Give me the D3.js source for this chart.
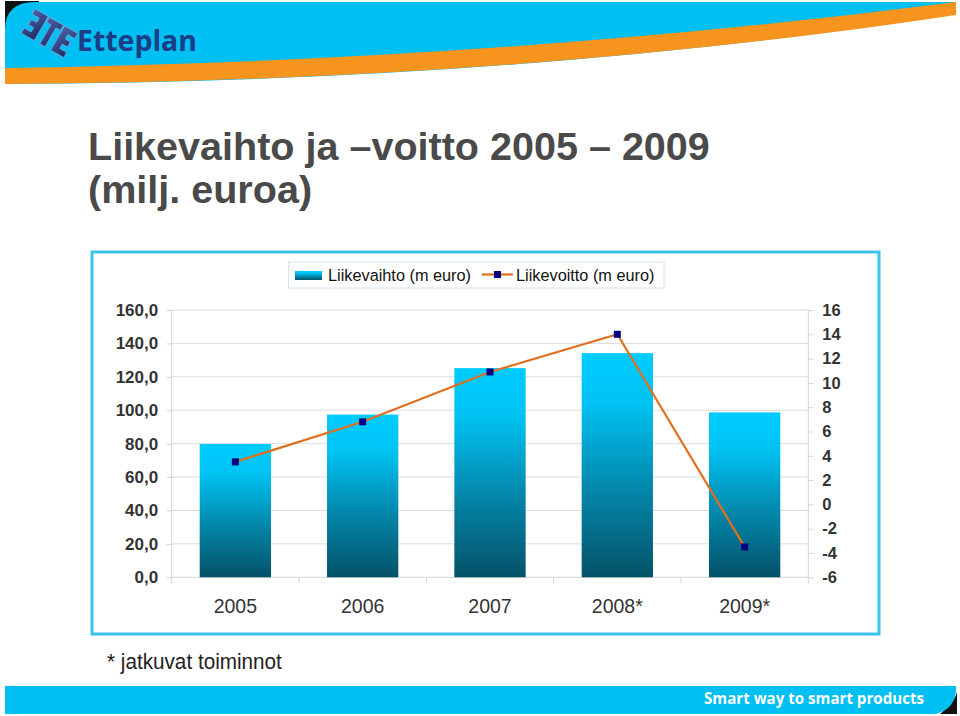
<!DOCTYPE html>
<html><head><meta charset="utf-8">
<script src="https://cdn.jsdelivr.net/npm/d3@7/dist/d3.min.js"></script>
<style>
html,body{margin:0;padding:0;background:#fff;}
svg{display:block;}
</style></head>
<body>
<script>
// ---- DATA ----
const categories = ["2005", "2006", "2007", "2008*", "2009*"];
const revenue = [79.8, 97.4, 125.2, 134.2, 98.7];      // Liikevaihto (m euro)
const profit = [3.5, 6.8, 10.9, 14.0, -3.5];           // Liikevoitto (m euro)
const leftTicks = [0, 20, 40, 60, 80, 100, 120, 140, 160];
const leftTickLabels = ["0,0", "20,0", "40,0", "60,0", "80,0", "100,0", "120,0", "140,0", "160,0"];
const rightTicks = [-6, -4, -2, 0, 2, 4, 6, 8, 10, 12, 14, 16];
const rightTickLabels = ["-6", "-4", "-2", "0", "2", "4", "6", "8", "10", "12", "14", "16"];
const seriesNames = ["Liikevaihto (m euro)", "Liikevoitto (m euro)"];
const titleLines = ["Liikevaihto ja \u2013voitto 2005 \u2013 2009", "(milj. euroa)"];
const footnote = "* jatkuvat toiminnot";
const slogan = "Smart way to smart products";
const brand = "Etteplan";

// ---- SETUP ----
const W = 960, H = 716;
const svg = d3.select("body").append("svg").attr("width", W).attr("height", H);
const defs = svg.append("defs");
const grad = defs.append("linearGradient").attr("id", "barGrad")
  .attr("x1", 0).attr("y1", 0).attr("x2", 0).attr("y2", 1);
[[0, "#00ccff"], [0.22, "#00c3f3"], [0.6, "#0388ac"], [1, "#045268"]].forEach(s =>
  grad.append("stop").attr("offset", s[0]).attr("stop-color", s[1]));
const lgGrad = defs.append("linearGradient").attr("id", "logoGrad")
  .attr("x1", 0).attr("y1", 0).attr("x2", 1).attr("y2", 1);
lgGrad.append("stop").attr("offset", 0).attr("stop-color", "#4a64a8");
lgGrad.append("stop").attr("offset", 1).attr("stop-color", "#1a2c66");

// ---- HEADER ----
svg.append("rect").attr("x", 5).attr("y", 1).attr("width", 34).attr("height", 30).attr("fill", "#111");
svg.append("path").attr("fill", "#00bff2")
  .attr("d", "M5,84 L5,30 Q5,2 35,2 L956,2 L956,14 Q520,82 5,84 Z");
svg.append("path").attr("fill", "#f7941d")
  .attr("d", "M5,68 Q500,61 956,2 L956,15 Q520,81 5,84 Z");
// logo mark (stylised ETE)
const logo = svg.append("g").attr("transform", "translate(25,15) rotate(30,24,18)");
const lp = ["M0,4 L15,4 L15,32 L0,32 L0,26 L8,26 L8,21 L2,21 L2,15 L8,15 L8,10 L0,10 Z",
  "M16.5,4 L32.5,4 L32.5,10 L27.5,10 L27.5,32 L21.5,32 L21.5,10 L16.5,10 Z",
  "M34,4 L49,4 L49,10 L41,10 L41,15 L47,15 L47,21 L41,21 L41,26 L49,26 L49,32 L34,32 Z"];
lp.forEach(d => logo.append("path").attr("d", d).attr("fill", "url(#logoGrad)").attr("stroke", "#8aa3d6").attr("stroke-width", 0.7));
{
  const t = svg.append("text").attr("x", 77).attr("y", 51).text(brand)
    .attr("font-family", "Open Sans, Liberation Sans, sans-serif").attr("font-weight", "bold")
    .attr("font-size", 26).attr("fill", "#1b3c86");
  const w = t.node().getComputedTextLength();
  t.attr("font-size", 26 * 120 / w);
}

// ---- TITLE ----
const tG = svg.append("g");
titleLines.forEach((t, i) => {
  tG.append("text").attr("x", 88).attr("y", 160 + i * 43).text(t)
    .attr("font-family", "Liberation Sans, Arial, sans-serif").attr("font-weight", "bold")
    .attr("font-size", 36).attr("fill", "#4a4a4a");
});
{
  const n = tG.select("text").node();
  const w = n.getComputedTextLength();
  tG.selectAll("text").attr("font-size", 36 * 622 / w);
}

// ---- CHART FRAME ----
svg.append("rect").attr("x", 92).attr("y", 252).attr("width", 787).attr("height", 382)
  .attr("fill", "#fff").attr("stroke", "#3cc4ee").attr("stroke-width", 3);

// ---- SCALES ----
const pl = 171.7, pr = 808.3, pt = 310, pb = 577.3;
const x = d3.scaleBand().domain(categories).range([pl, pr]).paddingInner(0.44).paddingOuter(0.22);
const yL = d3.scaleLinear().domain([0, 160]).range([pb, pt]);
const yR = d3.scaleLinear().domain([-6, 16]).range([pb, pt]);
const axisCol = "#d4d4d4";

// gridlines
svg.append("g").selectAll("line").data(leftTicks.filter(d => d > 0)).join("line")
  .attr("x1", pl).attr("x2", pr).attr("y1", d => yL(d)).attr("y2", d => yL(d))
  .attr("stroke", "#dcdcdc").attr("stroke-width", 1);

// left axis
const gL = svg.append("g").attr("transform", `translate(${pl},0)`)
  .call(d3.axisLeft(yL).tickValues(leftTicks).tickSize(5).tickPadding(8.5)
    .tickFormat((d, i) => leftTickLabels[i]));
gL.select(".domain").remove();
gL.append("line").attr("x1", 0).attr("x2", 0).attr("y1", pt).attr("y2", pb + 6).attr("stroke", axisCol);
gL.selectAll(".tick line").attr("stroke", axisCol);
gL.selectAll(".tick text").attr("font-family", "Liberation Sans, Arial, sans-serif")
  .attr("font-weight", "bold").attr("font-size", 17).attr("fill", "#333");

// right axis
const gR = svg.append("g").attr("transform", `translate(${pr},0)`)
  .call(d3.axisRight(yR).tickValues(rightTicks).tickSize(5).tickPadding(9)
    .tickFormat((d, i) => rightTickLabels[i]));
gR.select(".domain").remove();
gR.append("line").attr("x1", 0).attr("x2", 0).attr("y1", pt).attr("y2", pb + 6).attr("stroke", axisCol);
gR.selectAll(".tick line").attr("stroke", axisCol);
gR.selectAll(".tick text").attr("font-family", "Liberation Sans, Arial, sans-serif")
  .attr("font-weight", "bold").attr("font-size", 16.5).attr("fill", "#333");

// x axis
const gX = svg.append("g");
gX.append("line").attr("x1", pl).attr("x2", pr).attr("y1", pb).attr("y2", pb).attr("stroke", axisCol);
const step = x.step();
gX.selectAll("line.tk").data(categories.slice(1)).join("line").attr("class", "tk")
  .attr("x1", d => x(d) - step * x.paddingInner() / 2).attr("x2", d => x(d) - step * x.paddingInner() / 2)
  .attr("y1", pb).attr("y2", pb + 6).attr("stroke", axisCol);
gX.selectAll("text").data(categories).join("text")
  .attr("x", d => x(d) + x.bandwidth() / 2).attr("y", 613).attr("text-anchor", "middle")
  .text(d => d).attr("font-family", "Liberation Sans, Arial, sans-serif")
  .attr("font-size", 19.5).attr("fill", "#333");

// bars
svg.append("g").selectAll("rect").data(revenue).join("rect")
  .attr("x", (d, i) => x(categories[i])).attr("width", x.bandwidth())
  .attr("y", d => yL(d)).attr("height", d => yL(0) - yL(d))
  .attr("fill", "url(#barGrad)");

// line
const cx = i => x(categories[i]) + x.bandwidth() / 2;
svg.append("path").datum(profit)
  .attr("d", d3.line().x((d, i) => cx(i)).y(d => yR(d)))
  .attr("fill", "none").attr("stroke", "#e0701f").attr("stroke-width", 2.2);
svg.append("g").selectAll("rect").data(profit).join("rect")
  .attr("x", (d, i) => cx(i) - 3.5).attr("y", d => yR(d) - 3.5)
  .attr("width", 7).attr("height", 7).attr("fill", "#000080");

// legend
svg.append("rect").attr("x", 288.5).attr("y", 262).attr("width", 375.5).attr("height", 26)
  .attr("fill", "#fff").attr("stroke", "#cfe6ee").attr("stroke-width", 1);
svg.append("rect").attr("x", 295).attr("y", 271).attr("width", 27).attr("height", 9).attr("fill", "url(#barGrad)");
svg.append("text").attr("x", 328).attr("y", 281).text(seriesNames[0])
  .attr("font-family", "Liberation Sans, Arial, sans-serif").attr("font-size", 16.3).attr("fill", "#111");
svg.append("line").attr("x1", 482).attr("x2", 513).attr("y1", 274.5).attr("y2", 274.5)
  .attr("stroke", "#e0701f").attr("stroke-width", 2.2);
svg.append("rect").attr("x", 494).attr("y", 271).attr("width", 7).attr("height", 7).attr("fill", "#000080");
svg.append("text").attr("x", 516).attr("y", 281).text(seriesNames[1])
  .attr("font-family", "Liberation Sans, Arial, sans-serif").attr("font-size", 16.3).attr("fill", "#111");

// footnote (narrow appearance via horizontal compression)
{
  const g = svg.append("g").attr("transform", "translate(107,669)");
  const t = g.append("text").attr("x", 0).attr("y", 0).text(footnote)
    .attr("font-family", "Liberation Sans, Arial, sans-serif")
    .attr("font-size", 21.5).attr("fill", "#222");
  const w = t.node().getComputedTextLength();
  g.attr("transform", `translate(107,669) scale(${175 / w},1)`);
}

// ---- FOOTER ----
svg.append("path").attr("fill", "#111").attr("d", "M930,714 L957,714 L957,690 Q957,700 940,714 Z");
svg.append("path").attr("fill", "#00bff2")
  .attr("d", "M5,686 L956,686 Q957,708 936,714 L5,714 Z");
{
  const t = svg.append("text").attr("x", 704).attr("y", 704).text(slogan)
    .attr("font-family", "Open Sans, Liberation Sans, sans-serif").attr("font-weight", "bold")
    .attr("font-size", 14).attr("fill", "#fff");
  const w = t.node().getComputedTextLength();
  t.attr("font-size", 14 * 220 / w);
}
</script>
</body></html>
